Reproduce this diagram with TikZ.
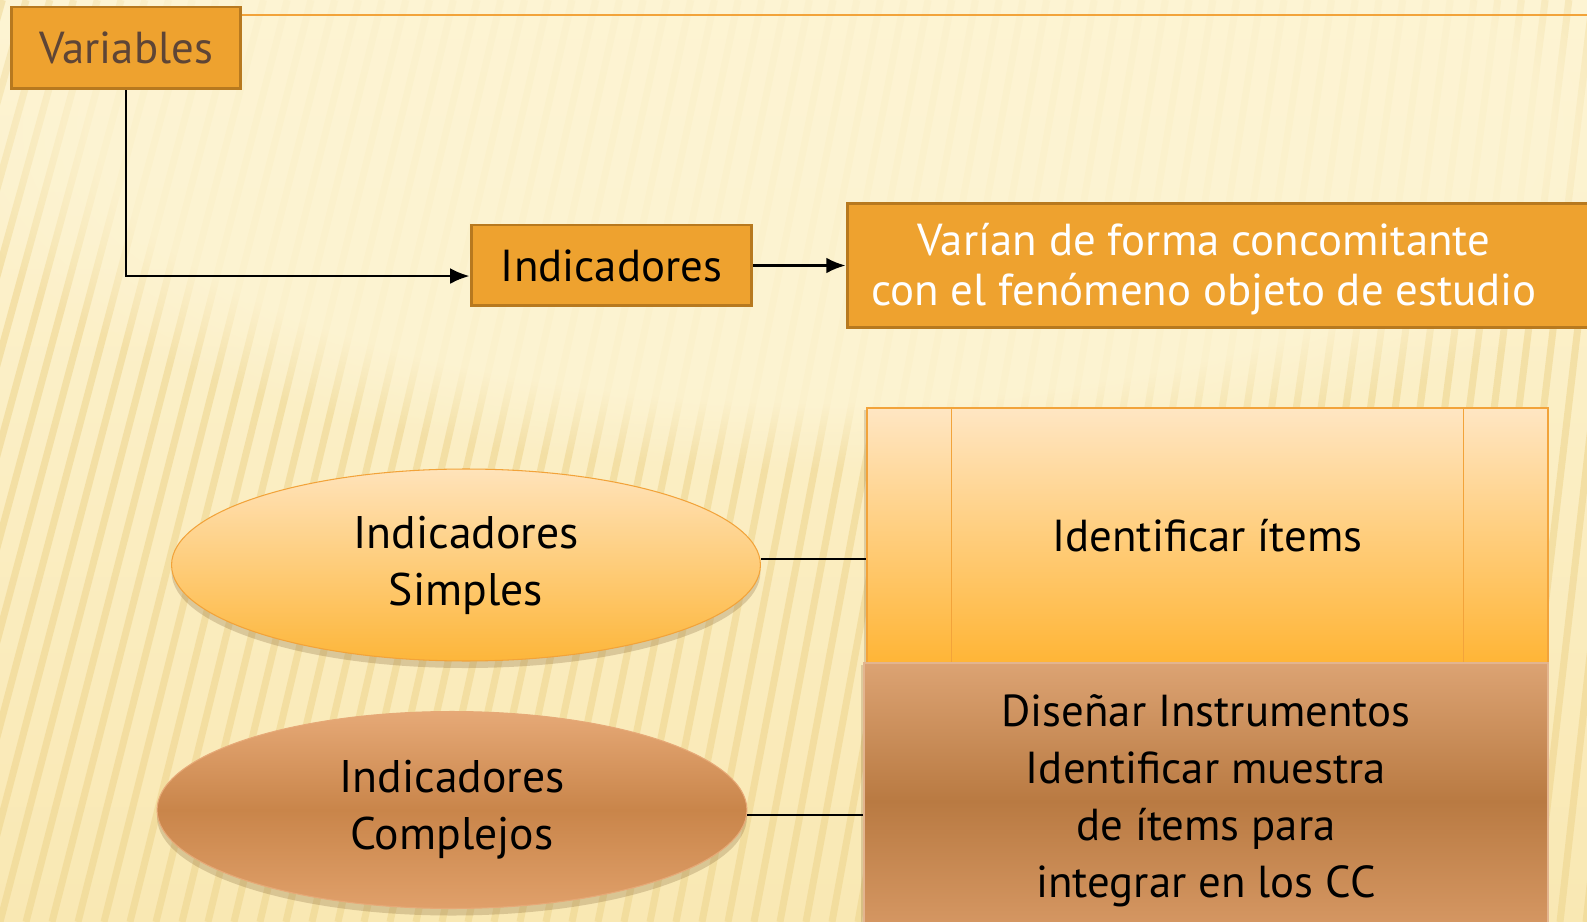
\documentclass[tikz,border=0pt]{standalone}
\usepackage{fontspec}
\setmainfont{PT Sans}
\usepackage{xcolor}
\usetikzlibrary{arrows.meta}
\usetikzlibrary{shapes.geometric}
\usetikzlibrary{shadows,fadings,calc}
\definecolor{bgtop}{HTML}{FDF4D3}
\definecolor{bgbot}{HTML}{F9E8B3}
\definecolor{raya}{HTML}{EED48C}
\definecolor{naranja}{HTML}{EEA22F}
\definecolor{borde}{HTML}{B7791F}
\definecolor{textovar}{HTML}{5E4536}
\definecolor{lineasup}{HTML}{F2A33A}
\definecolor{simpletop}{HTML}{FFE3BA}
\definecolor{simplebot}{HTML}{FDB63A}
\definecolor{compltop}{HTML}{E6A977}
\definecolor{complmid}{HTML}{C9854A}
\definecolor{complbot}{HTML}{E0A06A}
\definecolor{paneltop}{HTML}{FFE6C3}
\definecolor{panelbot}{HTML}{FFB536}
\definecolor{bajotop}{HTML}{DCA373}
\definecolor{bajomid}{HTML}{B97A42}
\definecolor{bajobot}{HTML}{D89A66}
\definecolor{sombra}{HTML}{6B4A20}

\begin{document}
\begin{tikzpicture}[x=0.02cm,y=-0.02cm,
	caja node/.style={rectangle, draw=borde, line width=1.7pt, fill=naranja, inner sep=0pt, font=\fontsize{25.5}{30}\selectfont},
	oval node/.style={ellipse, inner sep=0pt, align=center, line width=0.6pt, font=\fontsize{26}{32.5}\selectfont, drop shadow={shadow xshift=0pt, shadow yshift=-4pt, opacity=.22, fill=sombra}},
	panel node/.style={rectangle, inner sep=0pt, align=center, font=\fontsize{25.5}{32.5}\selectfont},
	conector/.style={line width=1.4pt, black},
	flecha/.style={conector, -{Latex[length=11pt,width=9pt]}}]
			\clip (0,0) rectangle (1587,922);
			% Fondo
			\fill[top color=bgtop, bottom color=bgbot] (0,0) rectangle (1587,922);
			\foreach \i in {-14,...,64}{
				\pgfmathsetmacro\xa{\i*26}
				\pgfmathsetmacro\sl{0.26-0.15*\xa/1587}
				\draw[raya, line width=4pt, opacity=.55] (\xa,922) -- ({\xa+\sl*922},0);
			}
			\fill[bgtop, opacity=.85, path fading=circle with fuzzy edge 20 percent] (820,130) ellipse [x radius=900, y radius=340];
			
			% Nodes
			\coordinate (fin) at (1587,15);
			\node[caja node, minimum width=4.6cm, minimum height=1.64cm, text=textovar] (var) at (126,48) {Variables};
			\draw[lineasup, line width=1.7pt] (var.east |- fin) -- (fin);
			\node[caja node, minimum width=5.62cm, minimum height=1.62cm] (ind) at (611.5,265.5) {Indicadores};
			\node[caja node, minimum width=15.06cm, minimum height=2.5cm] (desc) at (1223.5,265.5) {};
			\node[align=center, text=white, font=\fontsize{25.5}{28.8}\selectfont] (desctext) at (1204,269) {Varían de forma concomitante\\con el fenómeno objeto de estudio};
			
			\node[oval node, minimum width=11.78cm, minimum height=3.84cm, draw=lineasup, top color=simpletop, bottom color=simplebot] (es) at (466,565) {Indicadores\\Simples};
			\node[oval node, minimum width=11.8cm, minimum height=3.94cm, draw=compltop, top color=compltop, bottom color=complbot, middle color=complmid] (ec) at (452,810) {Indicadores\\Complejos};
			
			\node[panel node, minimum width=13.62cm, minimum height=5.1cm, draw=lineasup, line width=0.8pt, top color=paneltop, bottom color=panelbot, drop shadow={shadow xshift=-2pt, shadow yshift=-1pt, opacity=.2, fill=sombra}] (items) at (1207.5,535.5) {Identificar ítems};
			\draw[lineasup, line width=0.8pt] ($(items.north west)+(85,0)$) -- ($(items.south west)+(85,0)$);
			\draw[lineasup, line width=0.8pt] ($(items.north east)+(-85,0)$) -- ($(items.south east)+(-85,0)$);
			\node[panel node, minimum width=13.68cm, minimum height=5.52cm, draw=bajotop!80!white, line width=0.8pt, top color=bajotop, bottom color=bajobot, middle color=bajomid, drop shadow={shadow xshift=-2pt, shadow yshift=-1pt, opacity=.2, fill=sombra}] (disenar) at (1206,801) {Diseñar Instrumentos\\Identificar muestra\\de ítems para\\integrar en los CC};
			
			% Connectors
			\draw[flecha] (var.south) |- ([yshift=-6pt]ind.west);
			\draw[flecha] (ind.east) -- (desc.west |- ind.east);
			\draw[conector] ($(es.east)+(0,-6)$) -- ($(es.east -| items.west)+(0,-6)$);
			\draw[conector] ($(ec.east)+(0,5)$) -- ($(ec.east -| disenar.west)+(0,5)$);
			
		\end{tikzpicture}
\end{document}
